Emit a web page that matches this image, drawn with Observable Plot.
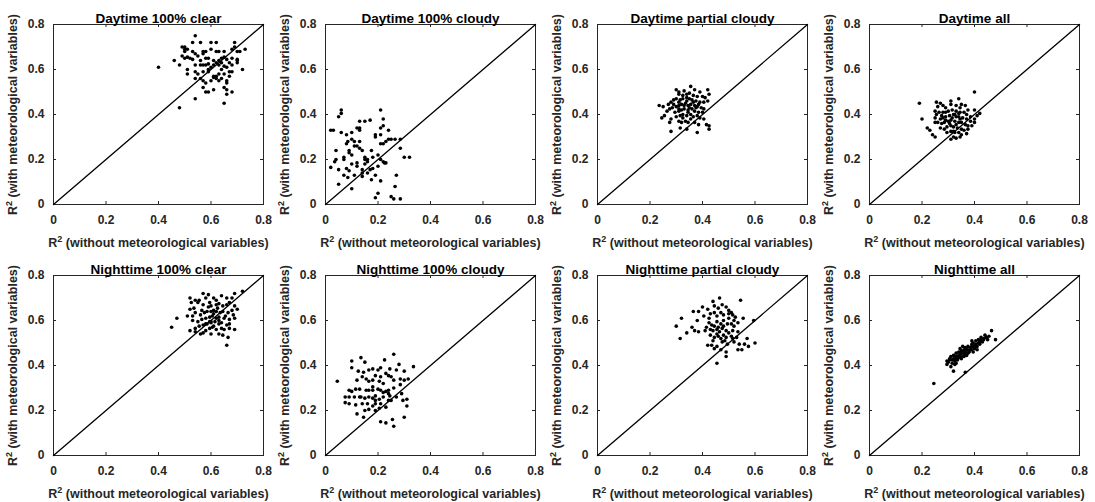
<!DOCTYPE html>
<html>
<head>
<meta charset="utf-8">
<script src="https://cdn.jsdelivr.net/npm/d3@7"></script>
<script src="https://cdn.jsdelivr.net/npm/@observablehq/plot@0.6"></script>
<style>
  body { margin: 0; background: #fff; }
  #chart { position: relative; width: 1095px; height: 502px; font-family: "Liberation Sans", Arial, sans-serif; }
  #chart svg { position: absolute; }
</style>
</head>
<body>
<div id="chart"></div>
<script>
// Panel titles, left-to-right, top-to-bottom
const titles = [
  "Daytime 100% clear", "Daytime 100% cloudy", "Daytime partial cloudy", "Daytime all",
  "Nighttime 100% clear", "Nighttime 100% cloudy", "Nighttime partial cloudy", "Nighttime all"
];
const tickValues = [0, 0.2, 0.4, 0.6, 0.8];
const tickLabels = ["0", "0.2", "0.4", "0.6", "0.8"];
const xLabel = "R\u00B2 (without meteorological variables)";
const yLabel = "R\u00B2 (with meteorological variables)";
const oneToOne = [0, 0.8];

// [R² without met. variables, R² with met. variables] per station
const dayClear = [
  [0.54,0.75],[0.53,0.72],[0.56,0.72],[0.60,0.72],[0.62,0.72],[0.69,0.72],[0.73,0.69],[0.71,0.68],
  [0.49,0.70],[0.50,0.69],[0.51,0.69],[0.50,0.68],[0.53,0.68],[0.54,0.67],[0.55,0.66],[0.57,0.68],
  [0.57,0.67],[0.58,0.68],[0.60,0.69],[0.62,0.68],[0.63,0.68],[0.65,0.68],[0.68,0.69],[0.69,0.70],
  [0.70,0.68],[0.64,0.65],[0.65,0.655],[0.66,0.645],[0.67,0.63],[0.64,0.63],[0.63,0.64],[0.61,0.64],
  [0.59,0.65],[0.58,0.65],[0.46,0.64],[0.50,0.65],[0.51,0.655],[0.52,0.65],[0.53,0.645],[0.48,0.62],
  [0.51,0.60],[0.56,0.62],[0.57,0.62],[0.59,0.625],[0.61,0.62],[0.62,0.63],[0.63,0.62],[0.65,0.615],
  [0.66,0.61],[0.68,0.62],[0.70,0.64],[0.70,0.63],[0.72,0.60],[0.51,0.58],[0.54,0.59],[0.55,0.58],
  [0.57,0.59],[0.59,0.59],[0.61,0.57],[0.62,0.57],[0.63,0.58],[0.65,0.58],[0.67,0.57],[0.68,0.59],
  [0.54,0.56],[0.56,0.56],[0.57,0.55],[0.58,0.54],[0.61,0.565],[0.62,0.56],[0.63,0.55],[0.64,0.56],
  [0.66,0.55],[0.57,0.52],[0.58,0.50],[0.59,0.50],[0.61,0.51],[0.65,0.52],[0.66,0.51],[0.66,0.54],
  [0.68,0.50],[0.66,0.49],[0.54,0.47],[0.65,0.45],[0.48,0.43],[0.68,0.65],[0.70,0.645],[0.54,0.62],
  [0.59,0.60],[0.60,0.61],[0.64,0.60],[0.67,0.59],[0.60,0.55],[0.56,0.64],[0.50,0.70],[0.58,0.62],
  [0.49,0.66],[0.40,0.61]
];
const dayCloudy = [
  [0.06,0.42],[0.06,0.405],[0.05,0.39],[0.21,0.42],[0.22,0.38],[0.13,0.37],[0.15,0.37],[0.17,0.375],
  [0.12,0.34],[0.13,0.34],[0.13,0.33],[0.21,0.34],[0.22,0.35],[0.24,0.33],[0.02,0.33],[0.03,0.33],
  [0.06,0.32],[0.08,0.31],[0.19,0.31],[0.21,0.31],[0.19,0.30],[0.085,0.28],[0.10,0.29],[0.11,0.28],
  [0.08,0.27],[0.11,0.26],[0.12,0.26],[0.13,0.25],[0.09,0.24],[0.23,0.28],[0.24,0.29],[0.25,0.29],
  [0.22,0.27],[0.21,0.27],[0.265,0.29],[0.285,0.29],[0.04,0.24],[0.04,0.20],[0.035,0.19],[0.07,0.21],
  [0.09,0.23],[0.10,0.22],[0.14,0.24],[0.15,0.20],[0.15,0.21],[0.16,0.19],[0.18,0.21],[0.20,0.22],
  [0.21,0.20],[0.22,0.19],[0.23,0.185],[0.02,0.165],[0.05,0.155],[0.08,0.16],[0.09,0.15],[0.10,0.18],
  [0.12,0.17],[0.14,0.155],[0.14,0.14],[0.17,0.155],[0.18,0.16],[0.20,0.17],[0.225,0.185],[0.285,0.25],
  [0.30,0.21],[0.32,0.21],[0.07,0.13],[0.085,0.12],[0.11,0.13],[0.14,0.125],[0.16,0.14],[0.19,0.13],
  [0.27,0.13],[0.05,0.09],[0.10,0.07],[0.175,0.11],[0.21,0.105],[0.265,0.08],[0.20,0.05],[0.19,0.03],
  [0.25,0.035],[0.26,0.025],[0.285,0.025],[0.12,0.185],[0.15,0.18],[0.175,0.24],[0.16,0.20],[0.07,0.20],
  [0.13,0.28],[0.10,0.32]
];
const dayPartial = [
  [0.30,0.51],[0.31,0.50],[0.33,0.505],[0.355,0.525],[0.37,0.51],[0.39,0.50],[0.42,0.51],[0.425,0.49],
  [0.31,0.49],[0.325,0.485],[0.34,0.49],[0.35,0.495],[0.365,0.485],[0.38,0.48],[0.40,0.48],[0.41,0.475],
  [0.235,0.44],[0.25,0.435],[0.27,0.445],[0.28,0.455],[0.29,0.465],[0.30,0.47],[0.315,0.465],[0.325,0.47],
  [0.34,0.475],[0.35,0.47],[0.36,0.465],[0.375,0.46],[0.39,0.455],[0.405,0.455],[0.42,0.46],[0.265,0.415],
  [0.285,0.43],[0.30,0.435],[0.31,0.44],[0.32,0.445],[0.335,0.45],[0.345,0.44],[0.355,0.445],[0.37,0.44],
  [0.38,0.435],[0.395,0.43],[0.405,0.425],[0.295,0.41],[0.31,0.415],[0.32,0.42],[0.33,0.425],[0.345,0.42],
  [0.36,0.425],[0.37,0.415],[0.385,0.41],[0.245,0.385],[0.28,0.38],[0.30,0.39],[0.315,0.395],[0.325,0.40],
  [0.34,0.395],[0.355,0.40],[0.365,0.39],[0.38,0.395],[0.39,0.385],[0.405,0.38],[0.275,0.365],[0.31,0.37],
  [0.32,0.365],[0.335,0.37],[0.345,0.365],[0.37,0.365],[0.385,0.355],[0.415,0.355],[0.28,0.325],[0.315,0.34],
  [0.34,0.335],[0.38,0.32],[0.425,0.335],[0.425,0.35],[0.33,0.44],[0.34,0.46],[0.35,0.43],[0.31,0.455],
  [0.365,0.455],[0.385,0.445],[0.29,0.445],[0.275,0.425],[0.255,0.395],[0.40,0.41],[0.325,0.385],[0.355,0.38],
  [0.31,0.425],[0.345,0.41],[0.375,0.43]
];
const dayAll = [
  [0.19,0.45],[0.20,0.38],[0.40,0.50],[0.22,0.34],[0.23,0.33],[0.24,0.31],[0.25,0.30],[0.255,0.455],
  [0.27,0.45],[0.31,0.46],[0.34,0.47],[0.35,0.445],[0.26,0.435],[0.28,0.44],[0.29,0.43],[0.31,0.445],
  [0.33,0.44],[0.345,0.43],[0.365,0.44],[0.375,0.42],[0.40,0.42],[0.42,0.405],[0.25,0.415],[0.265,0.41],
  [0.28,0.41],[0.29,0.41],[0.30,0.415],[0.315,0.42],[0.33,0.415],[0.345,0.41],[0.36,0.41],[0.37,0.40],
  [0.385,0.39],[0.25,0.385],[0.27,0.38],[0.28,0.385],[0.29,0.39],[0.305,0.395],[0.32,0.40],[0.33,0.39],
  [0.34,0.39],[0.355,0.385],[0.37,0.38],[0.385,0.37],[0.40,0.38],[0.26,0.365],[0.275,0.36],[0.285,0.365],
  [0.30,0.37],[0.31,0.375],[0.325,0.37],[0.34,0.365],[0.35,0.365],[0.365,0.355],[0.375,0.35],[0.27,0.34],
  [0.285,0.335],[0.295,0.345],[0.31,0.35],[0.32,0.345],[0.335,0.34],[0.35,0.335],[0.36,0.33],[0.375,0.335],
  [0.295,0.32],[0.31,0.325],[0.325,0.32],[0.34,0.32],[0.35,0.31],[0.37,0.315],[0.32,0.30],[0.33,0.295],
  [0.345,0.30],[0.31,0.29],[0.325,0.40],[0.34,0.405],[0.315,0.385],[0.305,0.36],[0.29,0.375],[0.345,0.38],
  [0.33,0.355],[0.32,0.325],[0.25,0.365],[0.41,0.395],[0.39,0.35],[0.275,0.395],[0.255,0.40],[0.40,0.365]
];
const nightClear = [
  [0.57,0.72],[0.59,0.715],[0.64,0.71],[0.69,0.72],[0.72,0.73],[0.52,0.70],[0.54,0.69],[0.555,0.69],
  [0.58,0.70],[0.61,0.70],[0.62,0.69],[0.66,0.70],[0.68,0.70],[0.52,0.65],[0.535,0.655],[0.55,0.68],
  [0.57,0.67],[0.595,0.68],[0.60,0.665],[0.62,0.67],[0.63,0.675],[0.645,0.665],[0.66,0.67],[0.67,0.68],
  [0.69,0.665],[0.70,0.65],[0.47,0.61],[0.51,0.62],[0.53,0.62],[0.54,0.635],[0.56,0.625],[0.575,0.635],
  [0.585,0.64],[0.60,0.64],[0.61,0.645],[0.62,0.64],[0.635,0.635],[0.645,0.64],[0.665,0.635],[0.68,0.645],
  [0.45,0.57],[0.53,0.60],[0.55,0.595],[0.565,0.605],[0.58,0.61],[0.595,0.615],[0.605,0.62],[0.62,0.61],
  [0.63,0.615],[0.65,0.61],[0.67,0.605],[0.69,0.61],[0.54,0.565],[0.555,0.575],[0.57,0.58],[0.585,0.585],
  [0.60,0.59],[0.615,0.595],[0.63,0.585],[0.64,0.59],[0.66,0.58],[0.57,0.545],[0.58,0.555],[0.595,0.565],
  [0.605,0.57],[0.62,0.56],[0.64,0.565],[0.65,0.56],[0.67,0.565],[0.52,0.555],[0.54,0.55],[0.56,0.54],
  [0.60,0.54],[0.63,0.54],[0.645,0.535],[0.665,0.525],[0.69,0.56],[0.66,0.49],[0.60,0.595],[0.61,0.63],
  [0.625,0.655],[0.59,0.66],[0.565,0.645],[0.655,0.62],[0.685,0.625],[0.58,0.585],[0.63,0.60],[0.67,0.585],
  [0.525,0.68],[0.595,0.595],[0.61,0.575]
];
const nightCloudy = [
  [0.045,0.33],[0.10,0.42],[0.135,0.435],[0.15,0.415],[0.26,0.45],[0.225,0.425],[0.28,0.405],[0.10,0.39],
  [0.125,0.375],[0.145,0.37],[0.165,0.38],[0.18,0.385],[0.20,0.38],[0.21,0.39],[0.245,0.385],[0.27,0.38],
  [0.30,0.375],[0.335,0.395],[0.12,0.335],[0.14,0.35],[0.155,0.34],[0.165,0.33],[0.18,0.335],[0.19,0.355],
  [0.21,0.35],[0.23,0.365],[0.24,0.355],[0.25,0.35],[0.26,0.335],[0.285,0.34],[0.30,0.335],[0.315,0.34],
  [0.09,0.29],[0.10,0.285],[0.115,0.295],[0.13,0.295],[0.155,0.29],[0.165,0.29],[0.18,0.29],[0.20,0.295],
  [0.21,0.29],[0.22,0.28],[0.23,0.285],[0.24,0.29],[0.26,0.30],[0.285,0.315],[0.075,0.26],[0.09,0.26],
  [0.11,0.26],[0.135,0.26],[0.15,0.255],[0.165,0.26],[0.18,0.255],[0.19,0.265],[0.205,0.25],[0.22,0.26],
  [0.24,0.245],[0.25,0.245],[0.29,0.275],[0.075,0.235],[0.09,0.23],[0.115,0.225],[0.14,0.23],[0.16,0.23],
  [0.18,0.22],[0.19,0.23],[0.21,0.23],[0.23,0.215],[0.295,0.245],[0.31,0.25],[0.12,0.185],[0.15,0.20],
  [0.165,0.205],[0.19,0.20],[0.205,0.21],[0.31,0.22],[0.21,0.15],[0.23,0.145],[0.255,0.16],[0.26,0.13],
  [0.30,0.17],[0.24,0.275],[0.245,0.265],[0.18,0.305],[0.22,0.32],[0.205,0.33],[0.19,0.245],[0.27,0.26],
  [0.145,0.17],[0.13,0.26]
];
const nightPartial = [
  [0.44,0.685],[0.465,0.70],[0.545,0.69],[0.365,0.64],[0.385,0.64],[0.40,0.66],[0.42,0.65],[0.445,0.665],
  [0.475,0.67],[0.49,0.66],[0.50,0.645],[0.51,0.635],[0.32,0.61],[0.38,0.60],[0.43,0.63],[0.445,0.635],
  [0.455,0.62],[0.47,0.635],[0.48,0.625],[0.50,0.63],[0.515,0.625],[0.525,0.615],[0.555,0.61],[0.595,0.60],
  [0.30,0.575],[0.36,0.57],[0.37,0.555],[0.385,0.55],[0.425,0.59],[0.435,0.58],[0.445,0.575],[0.455,0.595],
  [0.47,0.585],[0.48,0.60],[0.495,0.585],[0.51,0.585],[0.52,0.575],[0.535,0.59],[0.43,0.56],[0.44,0.555],
  [0.455,0.56],[0.465,0.55],[0.475,0.565],[0.49,0.555],[0.50,0.545],[0.515,0.555],[0.34,0.545],[0.315,0.52],
  [0.43,0.535],[0.445,0.525],[0.46,0.53],[0.48,0.535],[0.49,0.525],[0.515,0.52],[0.53,0.525],[0.57,0.52],
  [0.42,0.49],[0.435,0.49],[0.455,0.485],[0.475,0.505],[0.495,0.495],[0.52,0.505],[0.54,0.495],[0.56,0.495],
  [0.575,0.485],[0.60,0.50],[0.445,0.475],[0.47,0.47],[0.49,0.46],[0.535,0.47],[0.55,0.47],[0.49,0.44],
  [0.455,0.41],[0.415,0.57],[0.46,0.57],[0.50,0.61],[0.48,0.575],[0.455,0.54],[0.485,0.51],[0.44,0.51],
  [0.535,0.55],[0.405,0.62],[0.52,0.60],[0.46,0.655],[0.425,0.61],[0.51,0.53],[0.47,0.52],[0.41,0.555]
];
const nightAll = [
  [0.245,0.32],[0.465,0.555],[0.48,0.515],[0.445,0.525],[0.435,0.515],[0.425,0.515],[0.42,0.505],[0.415,0.50],
  [0.405,0.495],[0.395,0.485],[0.39,0.485],[0.385,0.48],[0.375,0.47],[0.37,0.47],[0.365,0.465],[0.36,0.46],
  [0.35,0.455],[0.345,0.45],[0.34,0.445],[0.33,0.44],[0.325,0.44],[0.32,0.43],[0.315,0.425],[0.305,0.425],
  [0.30,0.415],[0.295,0.405],[0.32,0.375],[0.365,0.37],[0.43,0.505],[0.42,0.495],[0.41,0.485],[0.40,0.475],
  [0.39,0.47],[0.38,0.46],[0.37,0.455],[0.36,0.45],[0.35,0.44],[0.34,0.435],[0.33,0.43],[0.325,0.42],
  [0.315,0.41],[0.435,0.52],[0.45,0.515],[0.405,0.51],[0.395,0.50],[0.39,0.495],[0.375,0.485],[0.365,0.48],
  [0.36,0.47],[0.35,0.465],[0.34,0.46],[0.33,0.455],[0.32,0.445],[0.31,0.44],[0.305,0.43],[0.415,0.515],
  [0.425,0.525],[0.44,0.535],[0.385,0.47],[0.375,0.455],[0.36,0.44],[0.35,0.43],[0.335,0.425],[0.325,0.405],
  [0.41,0.47],[0.395,0.46],[0.355,0.485],[0.345,0.475],[0.39,0.51],[0.455,0.53],[0.31,0.395],[0.295,0.42],
  [0.405,0.485],[0.37,0.445],[0.33,0.41]
];

const panels = [dayClear, dayCloudy, dayPartial, dayAll, nightClear, nightCloudy, nightPartial, nightAll];

const W = 272, H = 251;
const M = {top: 24, right: 9, bottom: 47, left: 53};
const innerW = W - M.left - M.right;
const innerH = H - M.top - M.bottom;
const fmt = d => tickLabels[tickValues.indexOf(d)];
const inner = tickValues.slice(1, -1);
const ink = "#262626";

// Rewrite "R²" axis labels so the exponent is a raised, smaller "2"
function raiseExponent(svg) {
  const ns = "http://www.w3.org/2000/svg";
  svg.querySelectorAll("text").forEach(t => {
    const s = t.textContent;
    if (!s.startsWith("R\u00B2")) return;
    while (t.firstChild) t.removeChild(t.firstChild);
    const parts = [["R", null, null], ["2", "-5", "9px"], [s.slice(2), "5", null]];
    for (const [txt, dy, size] of parts) {
      const span = document.createElementNS(ns, "tspan");
      span.textContent = txt;
      if (dy) span.setAttribute("dy", dy);
      if (size) span.setAttribute("font-size", size);
      t.appendChild(span);
    }
  });
}

const chart = document.getElementById("chart");

panels.forEach((pts, i) => {
  const col = i % 4, row = Math.floor(i / 4);
  const svg = Plot.plot({
    width: W,
    height: H,
    marginTop: M.top,
    marginRight: M.right,
    marginBottom: M.bottom,
    marginLeft: M.left,
    x: {domain: [0, 0.8]},
    y: {domain: [0, 0.8]},
    style: {
      fontFamily: "'Liberation Sans', Arial, sans-serif",
      fontSize: "12px",
      fontWeight: "bold",
      color: ink,
      background: "transparent",
      overflow: "visible"
    },
    marks: [
      Plot.frame({stroke: ink, strokeWidth: 1}),
      // inward tick marks on all four sides
      Plot.tickX(inner, {x: d => d, insetTop: innerH - 3, stroke: ink}),
      Plot.tickX(inner, {x: d => d, insetBottom: innerH - 3, stroke: ink}),
      Plot.tickY(inner, {y: d => d, insetRight: innerW - 3, stroke: ink}),
      Plot.tickY(inner, {y: d => d, insetLeft: innerW - 3, stroke: ink}),
      Plot.axisX(tickValues, {
        tickFormat: fmt, tickSize: 0, tickPadding: 11, fontSize: 12
      }),
      Plot.axisX({
        ticks: [], tickSize: 0, fontSize: 12.5,
        label: xLabel, labelAnchor: "center", labelArrow: "none", labelOffset: 42
      }),
      Plot.axisY(tickValues, {
        tickFormat: fmt, tickSize: 0, tickPadding: 9, fontSize: 12
      }),
      Plot.axisY({
        ticks: [], tickSize: 0, fontSize: 12.5,
        label: yLabel, labelAnchor: "center", labelArrow: "none", labelOffset: 45
      }),
      Plot.line(oneToOne, {x: d => d, y: d => d, stroke: "black", strokeWidth: 1.3}),
      Plot.dot(pts, {x: d => d[0], y: d => d[1], r: 1.8, fill: "black", stroke: "none"}),
      Plot.text([titles[i]], {frameAnchor: "top", dy: -11, fontSize: 13.5, fontWeight: "bold", fill: "black"})
    ]
  });
  raiseExponent(svg);
  svg.style.left = (col * W) + "px";
  svg.style.top = (row * H) + "px";
  chart.appendChild(svg);
});
</script>
</body>
</html>
